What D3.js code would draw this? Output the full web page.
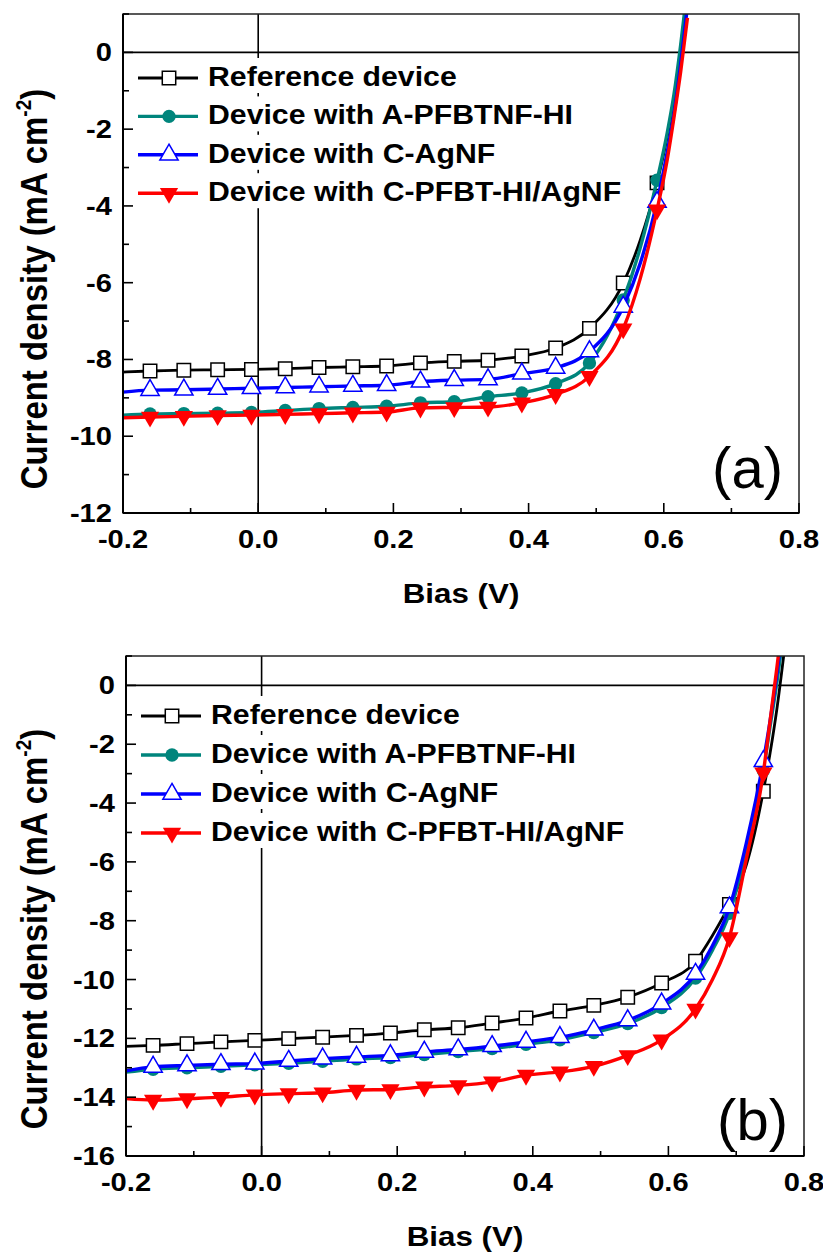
<!DOCTYPE html>
<html>
<head>
<meta charset="utf-8">
<script src="https://cdn.jsdelivr.net/npm/d3@7"></script>
<style>
  body { margin: 0; background: #fff; }
  text { font-family: "Liberation Sans", Arial, sans-serif; font-weight: bold; fill: #000; }
</style>
</head>
<body>
<svg id="chart" width="823" height="1256"></svg>
<script>
// legend / series
const seriesNames = ["Reference device", "Device with A-PFBTNF-HI", "Device with C-AgNF", "Device with C-PFBT-HI/AgNF"];
const seriesColors = ["#000000", "#00857c", "#0000ff", "#ff0000"];
const seriesShapes = ["square", "circle", "triangle", "triangleDown"];
const markerVolts = [-0.16, -0.11, -0.06, -0.01, 0.04, 0.09, 0.14, 0.19, 0.24, 0.29, 0.34, 0.39, 0.44, 0.49, 0.54, 0.59, 0.64, 0.69, 0.74];

// ticks
const xTicks = [-0.2, 0.0, 0.2, 0.4, 0.6, 0.8];
const xMinor = [-0.1, 0.1, 0.3, 0.5, 0.7];
const yTicksA = [0, -2, -4, -6, -8, -10, -12];
const yTicksB = [0, -2, -4, -6, -8, -10, -12, -14, -16];

// panel (a) data: bias (V) and current density (mA cm-2)
const voltsA = [-0.2, -0.16, -0.11, -0.06, -0.01, 0.04, 0.09, 0.14, 0.19, 0.24, 0.29, 0.34, 0.39, 0.44, 0.49, 0.54, 0.565, 0.59, 0.605, 0.615, 0.625, 0.635];
const refA = [-8.33, -8.30, -8.28, -8.27, -8.26, -8.24, -8.21, -8.19, -8.17, -8.09, -8.05, -8.02, -7.91, -7.70, -7.19, -6.01, -4.9, -3.4, -2.2, -1.2, 0.1, 1.6];
const aPfbtnfA = [-9.45, -9.42, -9.41, -9.40, -9.38, -9.33, -9.28, -9.25, -9.22, -9.13, -9.10, -8.97, -8.87, -8.63, -8.09, -6.45, -5.1, -3.33, -2.1, -1.1, 0.2, 1.7];
const cAgnfA = [-8.85, -8.80, -8.79, -8.77, -8.75, -8.73, -8.71, -8.69, -8.67, -8.58, -8.54, -8.52, -8.37, -8.22, -7.79, -6.63, -5.5, -3.9, -2.6, -1.6, -0.3, 1.2];
const cPfbtA = [-9.52, -9.50, -9.48, -9.46, -9.45, -9.43, -9.41, -9.39, -9.37, -9.26, -9.25, -9.24, -9.13, -8.91, -8.44, -7.20, -5.9, -4.1, -2.8, -1.7, -0.5, 0.9];

// panel (b) data
const voltsB = [-0.2, -0.16, -0.11, -0.06, -0.01, 0.04, 0.09, 0.14, 0.19, 0.24, 0.29, 0.34, 0.39, 0.44, 0.49, 0.54, 0.59, 0.64, 0.665, 0.69, 0.715, 0.74, 0.75, 0.76, 0.77, 0.78];
const refB = [-12.27, -12.24, -12.18, -12.12, -12.07, -12.01, -11.96, -11.90, -11.82, -11.71, -11.64, -11.48, -11.31, -11.07, -10.88, -10.60, -10.12, -9.38, -8.5, -7.45, -6.1, -3.6, -2.3, -0.8, 1.0, 3.0];
const aPfbtnfB = [-13.15, -13.05, -13.00, -12.95, -12.90, -12.85, -12.78, -12.70, -12.65, -12.55, -12.45, -12.35, -12.20, -12.05, -11.80, -11.50, -10.95, -9.95, -9.0, -7.75, -5.6, -2.9, -1.4, 0.1, 1.8, 3.5];
const cAgnfB = [-13.10, -12.97, -12.92, -12.88, -12.86, -12.77, -12.69, -12.63, -12.58, -12.46, -12.38, -12.27, -12.12, -11.96, -11.71, -11.39, -10.82, -9.81, -8.85, -7.55, -5.35, -2.58, -1.2, 0.4, 2.2, 4.0];
const cPfbtB = [-14.05, -14.10, -14.05, -14.00, -13.92, -13.88, -13.85, -13.76, -13.74, -13.65, -13.60, -13.48, -13.25, -13.14, -12.95, -12.58, -12.05, -11.00, -10.0, -8.57, -5.9, -2.97, -1.2, 0.6, 2.5, 4.5];

const SX = 1.12; // horizontal text stretch of the original figure
const svg = d3.select("#chart");

function stretchText(g, x, y, str, size, anchor) {
    return g.append("text")
        .attr("transform", "translate(" + x + "," + y + ") scale(" + SX + ",1)")
        .attr("text-anchor", anchor)
        .style("font-size", size + "px")
        .text(str);
}

function symbolPath(shape) {
    if (shape === "square") return d3.symbol(d3.symbolSquare, 180)();
    if (shape === "circle") return d3.symbol(d3.symbolCircle, 140)();
    return d3.symbol(d3.symbolTriangle, 145)();
}

function drawMarker(g, shape, color, x, y) {
    const m = g.append("path")
        .attr("d", symbolPath(shape))
        .attr("transform", "translate(" + x + "," + y + ")" + (shape === "triangleDown" ? " rotate(180)" : ""));
    if (shape === "square" || shape === "triangle") m.attr("fill", "#fff").attr("stroke", color).attr("stroke-width", 1.5);
    else m.attr("fill", color);
}

const fmtTick = t => t.toFixed(1); // plain hyphen minus, as in the figure

function drawPanel(p) {
    const x = d3.scaleLinear().domain([-0.2, 0.8]).range([p.left, p.right]);
    const y = d3.scaleLinear().domain(p.yDomain).range([p.bottom, p.top]);
    const g = svg.append("g");

    g.append("clipPath").attr("id", "clip-" + p.id)
        .append("rect")
        .attr("x", p.left).attr("y", p.top)
        .attr("width", p.right - p.left).attr("height", p.bottom - p.top);

    // zero lines
    g.append("line").attr("x1", p.left).attr("x2", p.right)
        .attr("y1", y(0)).attr("y2", y(0)).attr("stroke", "#000").attr("stroke-width", 1.6);
    g.append("line").attr("x1", x(0)).attr("x2", x(0))
        .attr("y1", p.top).attr("y2", p.bottom).attr("stroke", "#000").attr("stroke-width", 1.6);

    // curves
    const plot = g.append("g").attr("clip-path", "url(#clip-" + p.id + ")");
    const line = d3.line().x(d => x(d[0])).y(d => y(d[1])).curve(d3.curveMonotoneX);
    p.series.forEach((vals, i) => {
        const pts = p.volts.map((v, j) => [v, vals[j]]);
        plot.append("path")
            .attr("d", line(pts))
            .attr("fill", "none")
            .attr("stroke", seriesColors[i])
            .attr("stroke-width", i === 0 ? 2.8 : 3.4);
        pts.filter(d => markerVolts.some(m => Math.abs(m - d[0]) < 1e-6))
            .forEach(d => drawMarker(plot, seriesShapes[i], seriesColors[i], x(d[0]), y(d[1])));
    });

    // frame
    g.append("rect").attr("x", p.left).attr("y", p.top)
        .attr("width", p.right - p.left).attr("height", p.bottom - p.top)
        .attr("fill", "none").attr("stroke", "#222").attr("stroke-width", 1.5);
    g.append("line").attr("x1", p.left).attr("x2", p.left).attr("y1", p.top).attr("y2", p.bottom)
        .attr("stroke", "#000").attr("stroke-width", 2);
    g.append("line").attr("x1", p.left).attr("x2", p.right).attr("y1", p.bottom).attr("y2", p.bottom)
        .attr("stroke", "#000").attr("stroke-width", 2);

    // inward ticks
    xTicks.forEach(t => g.append("line").attr("x1", x(t)).attr("x2", x(t))
        .attr("y1", p.bottom).attr("y2", p.bottom - 10).attr("stroke", "#000").attr("stroke-width", 1.6));
    xMinor.forEach(t => g.append("line").attr("x1", x(t)).attr("x2", x(t))
        .attr("y1", p.bottom).attr("y2", p.bottom - 5).attr("stroke", "#000").attr("stroke-width", 1.6));
    d3.range(p.yDomain[0], p.yDomain[1] + 0.5, 1).forEach(t => {
        const major = t % 2 === 0;
        g.append("line").attr("x1", p.left).attr("x2", p.left + (major ? 10 : 6))
            .attr("y1", y(t)).attr("y2", y(t)).attr("stroke", "#000").attr("stroke-width", 1.6);
    });

    // tick labels
    xTicks.forEach(t => stretchText(g, x(t), p.bottom + 35, fmtTick(t), 26, "middle"));
    p.yTicks.forEach(t => stretchText(g, p.left - 11, y(t) + 9, String(t), 26, "end"));

    // axis titles
    stretchText(g, (p.left + p.right) / 2, p.bottom + 90, "Bias (V)", 28, "middle");
    const yt = g.append("text")
        .attr("transform", "translate(47," + p.yTitleY + ") rotate(-90) scale(1," + SX + ")")
        .attr("text-anchor", "middle")
        .style("font-size", "33px");
    yt.append("tspan").text("Current density (mA cm");
    yt.append("tspan").attr("dy", -14).style("font-size", "19px").text("-2");
    yt.append("tspan").attr("dy", 14).text(")");

    // panel label
    g.append("text").attr("x", p.right - 16).attr("y", p.bottom - p.labelOffset)
        .attr("text-anchor", "end").style("font-weight", "normal").style("font-size", "58px")
        .text(p.label);

    // legend
    const lg = g.append("g");
    seriesNames.forEach((name, i) => {
        const ly = p.legendY + i * p.legendStep;
        lg.append("rect").attr("x", p.left + 10).attr("y", ly - 20)
            .attr("width", 500).attr("height", 35).attr("fill", "#fff");
        lg.append("line").attr("x1", p.left + 15).attr("x2", p.left + 75)
            .attr("y1", ly).attr("y2", ly)
            .attr("stroke", seriesColors[i]).attr("stroke-width", i === 0 ? 2.8 : 3.4);
        drawMarker(lg, seriesShapes[i], seriesColors[i], p.left + 46, ly);
        stretchText(lg, p.left + 85, ly + 8, name, 27, "start");
    });
}

drawPanel({
    id: "a", left: 123, right: 799, top: 14, bottom: 513, yDomain: [-12, 1],
    volts: voltsA, series: [refA, aPfbtnfA, cAgnfA, cPfbtA], yTicks: yTicksA,
    yTitleY: 289, label: "(a)", labelOffset: 25, legendY: 78, legendStep: 38.4
});
drawPanel({
    id: "b", left: 126, right: 804, top: 656, bottom: 1156, yDomain: [-16, 1],
    volts: voltsB, series: [refB, aPfbtnfB, cAgnfB, cPfbtB], yTicks: yTicksB,
    yTitleY: 929, label: "(b)", labelOffset: 16, legendY: 716, legendStep: 39
});
</script>
</body>
</html>
